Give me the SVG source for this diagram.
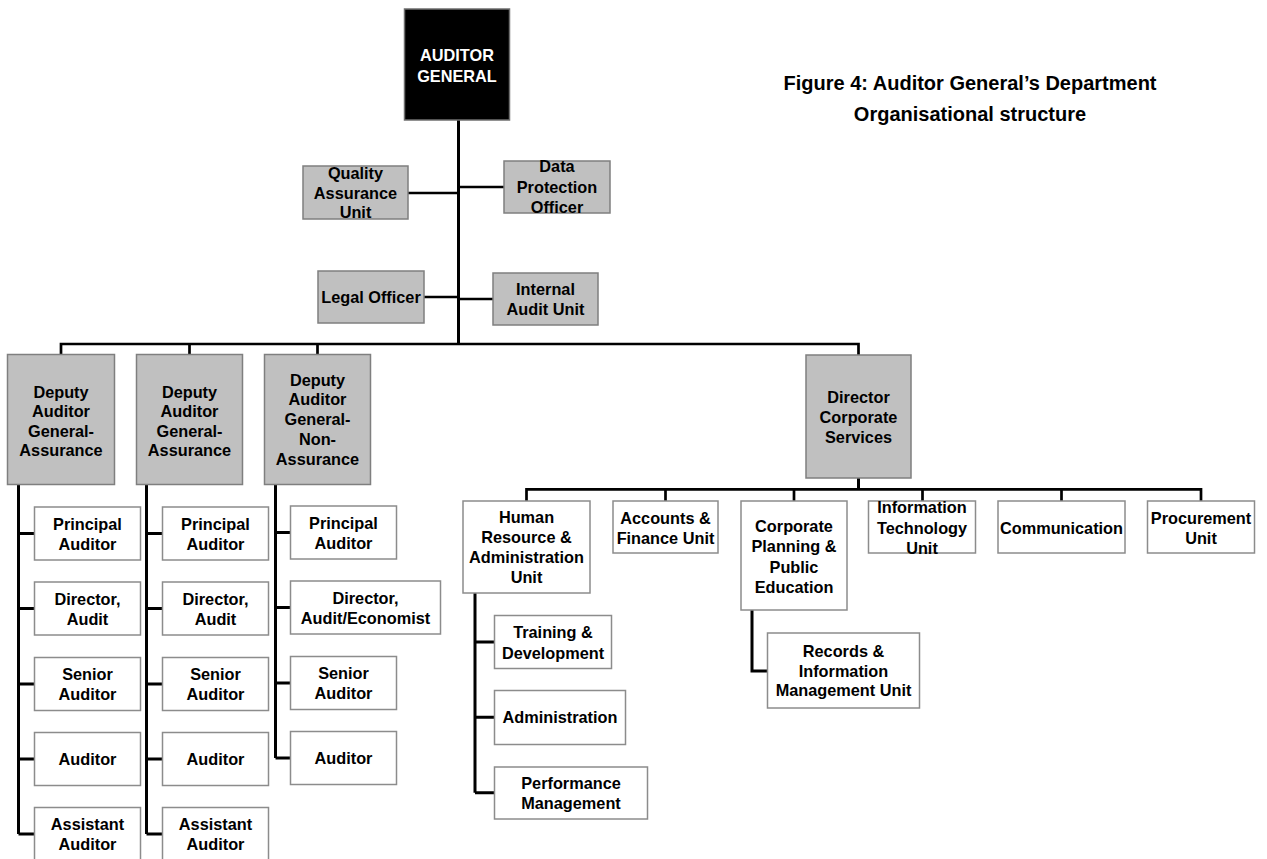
<svg xmlns="http://www.w3.org/2000/svg" width="1267" height="859" viewBox="0 0 1267 859">
<style>
.g{fill:#c0c0c0;stroke:#7f7f7f;stroke-width:1.5}
.w{fill:#fff;stroke:#8c8c8c;stroke-width:1.5}
.k{fill:#000;stroke:#6f6f6f;stroke-width:1.5}
text{font-family:"Liberation Sans",Arial,sans-serif;font-weight:bold;font-size:16.3px;text-anchor:middle;fill:#000}
.wt{fill:#fff}
.title{font-size:20px}
.c{stroke:#000;stroke-width:3;fill:none}
.h{stroke:#000;stroke-width:2.7;fill:none}
</style>
<rect width="1267" height="859" fill="#fff"/>
<g id="title">
<text class="title" x="970" y="90">Figure 4: Auditor General’s Department</text>
<text class="title" x="970" y="121">Organisational structure</text>
</g>
<g id="connectors">
<path class="c" d="M458.5 120V344"/>
<path class="h" d="M408 193H458.5M458.5 187H504M424 297H458.5M458.5 299H493"/>
<path class="h" d="M61 354.5V344H858.5V355M189.5 344V354.5M317.5 344V354.5"/>
<path class="c" d="M18.5 484.5V834M18.5 533.5H34.5M18.5 608.5H34.5M18.5 684H34.5M18.5 759H34.5M18.5 834H34.5"/>
<path class="c" d="M146.5 484.5V834M146.5 533.5H162.5M146.5 608.5H162.5M146.5 684H162.5M146.5 759H162.5M146.5 834H162.5"/>
<path class="c" d="M275.5 484.5V758M275.5 532.5H290.5M275.5 607.5H290.5M275.5 683H290.5M275.5 758H290.5"/>
<path class="c" d="M858.5 478V489.3"/>
<path class="h" d="M526.5 501V489.3H1201V501M665.5 489.3V501M794 489.3V501M922.5 489.3V501M1061.5 489.3V501"/>
<path class="c" d="M475 593V792.7M475 642H494.5M475 717.3H494.5M475 792.7H494.5"/>
<path class="c" d="M752 610V671H767.5"/>
</g>
<g id="auditor-general"><rect class="k" x="404.5" y="9" width="105" height="111"/><text class="wt" x="457" y="61">AUDITOR</text><text class="wt" x="457" y="82">GENERAL</text></g>
<g id="quality-assurance"><rect class="g" x="303" y="166" width="105" height="53"/><text x="355.5" y="179">Quality</text><text x="355.5" y="198.5">Assurance</text><text x="355.5" y="218">Unit</text></g>
<g id="data-protection"><rect class="g" x="504" y="161" width="106" height="52"/><text x="557" y="172">Data</text><text x="557" y="192.5">Protection</text><text x="557" y="212.5">Officer</text></g>
<g id="legal-officer"><rect class="g" x="318" y="271" width="106" height="52"/><text x="371" y="303">Legal Officer</text></g>
<g id="internal-audit"><rect class="g" x="493" y="273" width="105" height="52"/><text x="545.5" y="295">Internal</text><text x="545.5" y="315">Audit Unit</text></g>
<g id="deputy-1"><rect class="g" x="7.5" y="354.5" width="107" height="130"/><text x="61" y="397.5">Deputy</text><text x="61" y="417">Auditor</text><text x="61" y="436.5">General-</text><text x="61" y="456">Assurance</text></g>
<g id="deputy-2"><rect class="g" x="136.5" y="354.5" width="106" height="130"/><text x="189.5" y="397.5">Deputy</text><text x="189.5" y="417">Auditor</text><text x="189.5" y="436.5">General-</text><text x="189.5" y="456">Assurance</text></g>
<g id="deputy-3"><rect class="g" x="264.5" y="354.5" width="106" height="130"/><text x="317.5" y="385.5">Deputy</text><text x="317.5" y="405">Auditor</text><text x="317.5" y="425">General-</text><text x="317.5" y="445">Non-</text><text x="317.5" y="464.5">Assurance</text></g>
<g id="director-corporate"><rect class="g" x="806" y="355" width="105" height="123"/><text x="858.5" y="403">Director</text><text x="858.5" y="423">Corporate</text><text x="858.5" y="443">Services</text></g>
<g id="c1-principal"><rect class="w" x="34.5" y="507" width="106" height="53"/><text x="87.5" y="529.5">Principal</text><text x="87.5" y="549.5">Auditor</text></g>
<g id="c1-director"><rect class="w" x="34.5" y="582" width="106" height="53"/><text x="87.5" y="604.5">Director,</text><text x="87.5" y="624.5">Audit</text></g>
<g id="c1-senior"><rect class="w" x="34.5" y="657.5" width="106" height="53"/><text x="87.5" y="680">Senior</text><text x="87.5" y="700">Auditor</text></g>
<g id="c1-auditor"><rect class="w" x="34.5" y="732.5" width="106" height="53"/><text x="87.5" y="765">Auditor</text></g>
<g id="c1-assistant"><rect class="w" x="34.5" y="807.5" width="106" height="56"/><text x="87.5" y="830">Assistant</text><text x="87.5" y="850">Auditor</text></g>
<g id="c2-principal"><rect class="w" x="162.5" y="507" width="106" height="53"/><text x="215.5" y="529.5">Principal</text><text x="215.5" y="549.5">Auditor</text></g>
<g id="c2-director"><rect class="w" x="162.5" y="582" width="106" height="53"/><text x="215.5" y="604.5">Director,</text><text x="215.5" y="624.5">Audit</text></g>
<g id="c2-senior"><rect class="w" x="162.5" y="657.5" width="106" height="53"/><text x="215.5" y="680">Senior</text><text x="215.5" y="700">Auditor</text></g>
<g id="c2-auditor"><rect class="w" x="162.5" y="732.5" width="106" height="53"/><text x="215.5" y="765">Auditor</text></g>
<g id="c2-assistant"><rect class="w" x="162.5" y="807.5" width="106" height="56"/><text x="215.5" y="830">Assistant</text><text x="215.5" y="850">Auditor</text></g>
<g id="c3-principal"><rect class="w" x="290.5" y="506" width="106" height="53"/><text x="343.5" y="528.5">Principal</text><text x="343.5" y="548.5">Auditor</text></g>
<g id="c3-director"><rect class="w" x="290.5" y="581" width="150" height="53"/><text x="365.5" y="603.5">Director,</text><text x="365.5" y="623.5">Audit/Economist</text></g>
<g id="c3-senior"><rect class="w" x="290.5" y="656.5" width="106" height="53"/><text x="343.5" y="679">Senior</text><text x="343.5" y="699">Auditor</text></g>
<g id="c3-auditor"><rect class="w" x="290.5" y="731.5" width="106" height="53"/><text x="343.5" y="764">Auditor</text></g>
<g id="hr-admin"><rect class="w" x="463" y="501" width="127" height="92"/><text x="526.5" y="523">Human</text><text x="526.5" y="543">Resource &amp;</text><text x="526.5" y="563">Administration</text><text x="526.5" y="583">Unit</text></g>
<g id="accounts-finance"><rect class="w" x="613" y="501" width="105" height="52"/><text x="665.5" y="523.5">Accounts &amp;</text><text x="665.5" y="543.5">Finance Unit</text></g>
<g id="corporate-planning"><rect class="w" x="741" y="501" width="106" height="109"/><text x="794" y="532">Corporate</text><text x="794" y="552">Planning &amp;</text><text x="794" y="572.5">Public</text><text x="794" y="592.5">Education</text></g>
<g id="info-tech"><rect class="w" x="868.5" y="501" width="107" height="52"/><text x="922" y="512.7">Information</text><text x="922" y="533.5">Technology</text><text x="922" y="554">Unit</text></g>
<g id="communication"><rect class="w" x="998" y="501" width="127" height="52"/><text x="1061.5" y="534">Communication</text></g>
<g id="procurement"><rect class="w" x="1147.5" y="501" width="107" height="52"/><text x="1201" y="523.5">Procurement</text><text x="1201" y="543.5">Unit</text></g>
<g id="training"><rect class="w" x="494.5" y="615.5" width="117" height="53"/><text x="553" y="638.3">Training &amp;</text><text x="553" y="658.7">Development</text></g>
<g id="administration"><rect class="w" x="494.5" y="690.5" width="131" height="54"/><text x="560" y="723.3">Administration</text></g>
<g id="performance"><rect class="w" x="494.5" y="767" width="153" height="52"/><text x="571" y="788.7">Performance</text><text x="571" y="808.7">Management</text></g>
<g id="records"><rect class="w" x="767.5" y="633" width="152" height="75"/><text x="843.5" y="656.7">Records &amp;</text><text x="843.5" y="676.7">Information</text><text x="843.5" y="696">Management Unit</text></g>
</svg>
